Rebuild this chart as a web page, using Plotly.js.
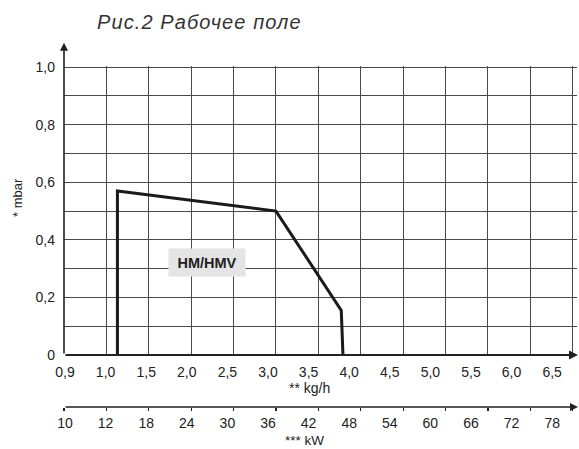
<!DOCTYPE html>
<html>
<head>
<meta charset="utf-8">
<script src="https://cdn.plot.ly/plotly-3.0.1.min.js"></script>
<style>html,body{margin:0;padding:0;background:#fff;}#chart{width:579px;height:449px;}
.gtitle{letter-spacing:1.1px;}</style>
</head>
<body>
<div id="chart"></div>
<script>
// Working field boundary (gas flow kg/h vs pressure mbar)
const flowKgH = [1.13, 1.13, 3.0, 3.77, 3.79];
const pressureMbar = [0, 0.57, 0.5, 0.155, 0];
// Axis tick labels (as printed)
const kgTickLabels = ['0,9','1,0','1,5','2,0','2,5','3,0','3,5','4,0','4,5','5,0','5,5','6,0','6,5'];
const kwTickLabels = ['10','12','18','24','30','36','42','48','54','60','66','72','78'];
const mbarTickVals = [0,0.1,0.2,0.3,0.4,0.5,0.6,0.7,0.8,0.9,1.0];
const mbarTickText = ['0','','0,2','','0,4','','0,6','','0,8','','1,0'];
const fieldLabel = 'HM/HMV';

const KW_PER_KGH = 12;
const xRange = [0.5, 6.55];
// printed labels drift slightly left of the grid lines in the scanned original
const labelPos = i => 0.5 + (1 + 40.6 * i) / 84.8;

const font = 'Liberation Sans, Arial, sans-serif';
const gridColor = '#4a4a4a';
const axisColor = '#222';

const traces = [
  {x: flowKgH, y: pressureMbar, xaxis: 'x', yaxis: 'y', mode: 'lines',
   line: {color: '#1a1a1a', width: 3}, hoverinfo: 'skip', showlegend: false, cliponaxis: false},
  {x: [], y: [], xaxis: 'x2', yaxis: 'y', mode: 'lines', showlegend: false, hoverinfo: 'skip'},
  {x: [], y: [], xaxis: 'x3', yaxis: 'y', mode: 'lines', showlegend: false, hoverinfo: 'skip'},
  {x: [], y: [], xaxis: 'x4', yaxis: 'y', mode: 'lines', showlegend: false, hoverinfo: 'skip'}
];

const layout = {
  width: 579, height: 449,
  margin: {l: 64, r: 2, t: 66, b: 42},
  paper_bgcolor: '#fff', plot_bgcolor: '#fff',
  showlegend: false,
  font: {family: font, size: 14, color: '#222'},
  title: {text: 'Рис.2 Рабочее поле', font: {family: font, size: 20, color: '#333', style: 'italic'},
          x: 0, xref: 'paper', xanchor: 'left', y: 0.952, yref: 'container', yanchor: 'middle', pad: {l: 33}},
  xaxis: {range: xRange, tickmode: 'linear', tick0: 0.5, dtick: 0.5, showgrid: true,
          gridcolor: gridColor, gridwidth: 1, showticklabels: false, ticks: '', zeroline: false,
          showline: false, anchor: 'y', fixedrange: true},
  xaxis3: {range: xRange, overlaying: 'x', anchor: 'y', side: 'bottom', tickmode: 'array',
           tickvals: kgTickLabels.map((_, i) => labelPos(i)), ticktext: kgTickLabels,
           showgrid: false, zeroline: false, showline: false, ticks: '',
           tickfont: {family: font, size: 14, color: '#222'}, ticklabelstandoff: 7},
  xaxis2: {range: xRange.map(v => v * KW_PER_KGH), overlaying: 'x', anchor: 'free', position: 0,
           side: 'bottom', tickmode: 'array',
           tickvals: kwTickLabels.map((_, i) => labelPos(i) * KW_PER_KGH), ticktext: kwTickLabels,
           ticks: '', showgrid: false, zeroline: false, showline: false,
           tickfont: {family: font, size: 14, color: '#222'}, ticklabelstandoff: 6},
  xaxis4: {range: xRange.map(v => v * KW_PER_KGH), overlaying: 'x', anchor: 'free', position: 0,
           side: 'bottom', tickmode: 'linear', tick0: 6, dtick: 6, ticks: 'outside', ticklen: 3,
           tickcolor: axisColor, tickwidth: 1.2, showticklabels: false, showgrid: false,
           zeroline: false, showline: false},
  yaxis: {range: [0, 1.004], domain: [0.1525, 1], tickmode: 'array', tickvals: mbarTickVals,
          ticktext: mbarTickText, showgrid: true, gridcolor: gridColor, gridwidth: 1,
          zeroline: false, showline: false, ticks: '', ticklabelstandoff: 8,
          tickfont: {family: font, size: 14, color: '#222'}, fixedrange: true},
  annotations: [
    // y axis with arrow
    {xref: 'x', yref: 'paper', x: 0.5, y: 1.068, axref: 'x', ayref: 'paper', ax: 0.5, ay: 0.1525,
     showarrow: true, arrowhead: 2, arrowsize: 1, arrowwidth: 1.6, arrowcolor: axisColor, text: ''},
    // kg/h axis with arrow
    {xref: 'paper', yref: 'y', x: 1.003, y: 0, axref: 'paper', ayref: 'y', ax: 0, ay: 0,
     showarrow: true, arrowhead: 2, arrowsize: 1, arrowwidth: 1.8, arrowcolor: axisColor, text: ''},
    // kW axis with arrow
    {xref: 'paper', yref: 'paper', x: 1.003, y: 0, axref: 'paper', ayref: 'paper', ax: 0, ay: 0,
     showarrow: true, arrowhead: 2, arrowsize: 1, arrowwidth: 1.6, arrowcolor: axisColor, text: ''},
    {xref: 'paper', yref: 'paper', x: 0.4776, y: 0.0557, xanchor: 'center', yanchor: 'middle',
     text: '** kg/h', showarrow: false, font: {family: font, size: 14, color: '#222'}},
    {xref: 'paper', yref: 'paper', x: 0.468, y: -0.0968, xanchor: 'center', yanchor: 'middle',
     text: '*** kW', showarrow: false, font: {family: font, size: 13.5, color: '#222'}},
    {xref: 'paper', yref: 'paper', x: -0.0897, y: 0.616, xanchor: 'center', yanchor: 'middle',
     text: '* mbar', textangle: -90, showarrow: false, font: {family: font, size: 13, color: '#222'}},
    {xref: 'x', yref: 'y', x: 2.186, y: 0.321, text: '<b>' + fieldLabel + '</b>', showarrow: false,
     width: 74, height: 25, bgcolor: '#e4e4e4', borderpad: 1,
     font: {family: font, size: 14.5, color: '#222'}}
  ]
};

Plotly.newPlot('chart', traces, layout, {staticPlot: true, displayModeBar: false});
</script>
</body>
</html>
